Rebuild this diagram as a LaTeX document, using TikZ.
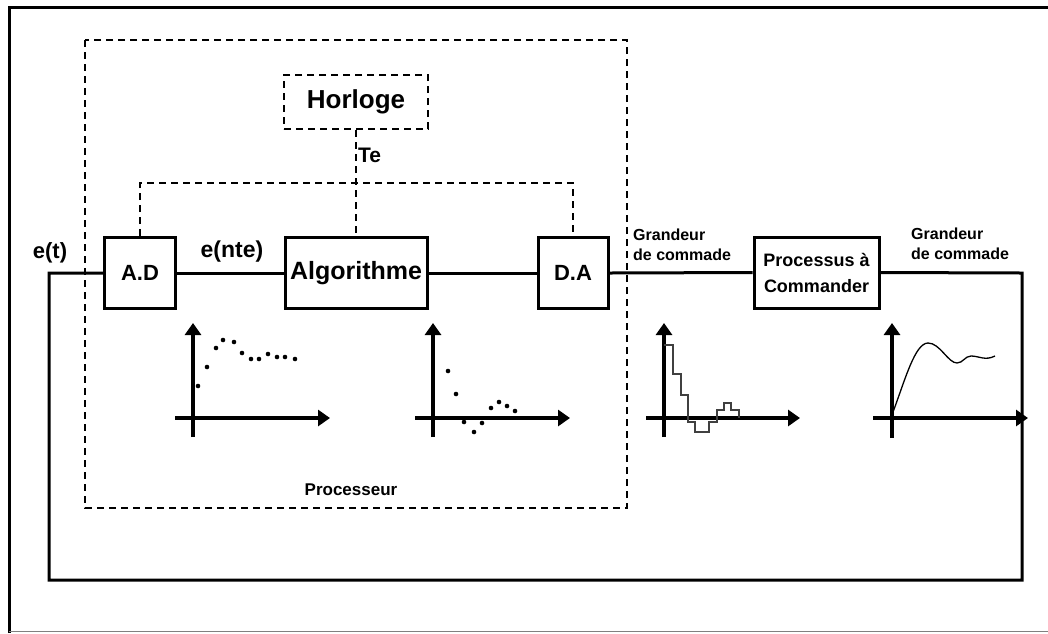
\documentclass[tikz,border=0pt]{standalone}
\usepackage{fontspec}
\setmainfont{Liberation Sans}
\usetikzlibrary{arrows.meta}
\begin{document}
\begin{tikzpicture}[x=1pt,y=-1pt,
  box/.style={draw, line width=3pt, inner sep=0pt, align=center},
  wire/.style={line width=3pt},
  dashln/.style={line width=2.2pt, dash pattern=on 7pt off 5pt},
  axis/.style={line width=3.2pt, -{Triangle[length=12pt,width=16pt]}},
  lbl/.style={inner sep=0pt, font=\bfseries}]
\useasboundingbox (0,0) rectangle (1048,633);
% outer frame
\draw[line width=3pt] (9.5,633) -- (9.5,7.5) -- (1048,7.5);
\draw[line width=1.2pt, gray] (9,631.5) -- (1048,631.5);
% processor dashed box
\draw[dashln] (85,40) rectangle (627,508);
\node[lbl, font=\bfseries\fontsize{17}{20}\selectfont] (processeur) at (351,490) {Processeur};
% clock
\node[box, dashln, minimum width=144pt, minimum height=54pt, font=\bfseries\fontsize{26}{30}\selectfont] (horloge) at (356,102) {Horloge};
% blocks
\node[box, minimum width=71pt, minimum height=71pt, font=\bfseries\fontsize{22}{26}\selectfont] (ad) at (140,273) {A.D};
\node[box, minimum width=142pt, minimum height=71pt, font=\bfseries\fontsize{25}{28}\selectfont] (algo) at (356,273) {Algorithme};
\node[box, minimum width=70pt, minimum height=71pt, font=\bfseries\fontsize{22}{26}\selectfont] (da) at (573,273) {D.A};
\node[box, minimum width=125pt, minimum height=71pt, font=\bfseries\fontsize{18}{26}\selectfont] (proc) at (816.5,272.5) {Processus à\\Commander};
% labels
\node[lbl, font=\bfseries\fontsize{22}{26}\selectfont] (et) at (50,253) {e(t)};
\node[lbl, font=\bfseries\fontsize{23}{26}\selectfont] (ente) at (232,252) {e(nte)};
\node[lbl, anchor=west, font=\bfseries\fontsize{21}{24}\selectfont] (te) at (358,155) {Te};
\node[lbl, anchor=west, align=left, font=\bfseries\fontsize{16}{20}\selectfont] (g1) at (633,245) {Grandeur\\de commade};
\node[lbl, anchor=west, align=left, font=\bfseries\fontsize{16}{20}\selectfont] (g2) at (911,244) {Grandeur\\de commade};
% coordinates of loop
\coordinate (in) at (49,273);
\coordinate (r1) at (1022,273);
\coordinate (r2) at (1022,580);
\coordinate (l2) at (49,580);
\coordinate (top) at (356,183);
% main chain
\draw[wire] (ad.east) -- (algo.west);
\draw[wire] (algo.east) -- (da.west);
\draw[wire] (da.east) -- (proc.west);
\draw[wire, line join=miter] (proc.east) -- (r1) -- (r2) -- (l2) -- (in) -- (ad.west);
% clock distribution
\draw[dashln] (horloge.south) -- (algo.north);
\draw[dashln] (ad.north) |- (top) -| (da.north);
% graph 1
\draw[axis] (193,437) -- (193,323);
\draw[axis] (175,418) -- (330,418);
\foreach \p in {(198,386),(207,367),(216,348),(223,340),(234,342),(242,353),(251,359),(259,359),(268,354),(277,357),(285,357),(295,359)}
  \fill \p circle (2.3pt);
% graph 2
\draw[axis] (433,437) -- (433,323);
\draw[axis] (415,418) -- (570,418);
\foreach \p in {(448,371),(456,394),(464,422),(474,432),(482,423),(491,408),(499,402),(507,406),(515,411)}
  \fill \p circle (2.3pt);
% graph 3
\draw[axis] (664,437) -- (664,323);
\draw[axis] (646,418) -- (800,418);
\draw[line width=1.5pt, black!75] (664,345) -- (673,345) -- (673,374) -- (681,374) -- (681,395) -- (688,395) -- (688,422) -- (695,422) -- (695,432) -- (709,432) -- (709,422) -- (717,422) -- (717,410) -- (724,410) -- (724,403) -- (731,403) -- (731,410) -- (739,410) -- (739,418);
% graph 4
\draw[axis] (892,438) -- (892,323);
\draw[axis] (873,418) -- (1028,418);
\draw[line width=1.3pt] (893,412) .. controls (905,380) and (915,343) .. (928,343) .. controls (940,343) and (948,363) .. (957,363) .. controls (963,363) and (965,356) .. (971,356) .. controls (979,356) and (985,361) .. (995,356);
\end{tikzpicture}
\end{document}
